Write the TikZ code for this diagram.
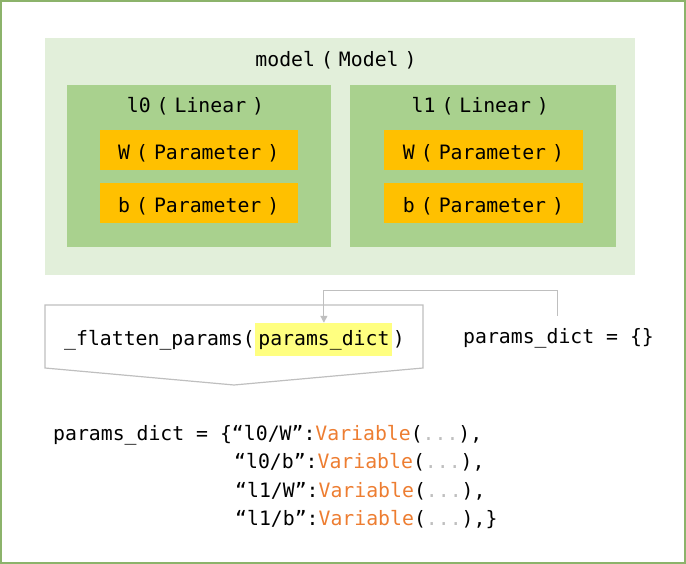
\documentclass[tikz,border=0pt]{standalone}
\usepackage{fontspec}
\usetikzlibrary{arrows.meta}
\newfontfamily\codefont{DejaVu Sans Mono}
\definecolor{framegreen}{HTML}{8CB36B}
\definecolor{modelfill}{HTML}{E2EFDA}
\definecolor{linfill}{HTML}{A9D18E}
\definecolor{parfill}{HTML}{FFC000}
\definecolor{hlyellow}{HTML}{FFFF80}
\definecolor{linegray}{HTML}{BFBFBF}
\definecolor{vorange}{HTML}{ED7D31}
\definecolor{dotgray}{HTML}{BFBFBF}
\newcommand\varcall{\textcolor{vorange}{Variable}(\textcolor{dotgray}{...})}
\newcommand\nsp{\hspace{6pt}}
\begin{document}
\begin{tikzpicture}[x=1pt,y=-1pt,
  box/.style={rectangle, inner sep=0pt, draw=none},
  modelbox/.style={box, fill=modelfill, minimum width=590pt, minimum height=237pt},
  linbox/.style={box, fill=linfill, minimum height=162pt},
  parbox/.style={box, fill=parfill, minimum height=40pt, text height=20pt, text depth=0pt,
                 font=\codefont\fontsize{19.8}{22}\selectfont},
  title/.style={inner sep=0pt, anchor=base, font=\codefont\fontsize{19.8}{22}\selectfont},
  code/.style={inner sep=0pt, anchor=base west, font=\codefont\fontsize{19.8}{24}\selectfont},
  hlbox/.style={code, fill=hlyellow, inner xsep=3pt, inner ysep=6pt, text height=16pt, text depth=5pt},
  flatbox/.style={draw=linegray, line width=1.2pt},
  conn/.style={draw=linegray, line width=1.2pt, -{Triangle[width=7pt,length=7pt]}},
  frame/.style={draw=framegreen, line width=1.5pt},
]
\useasboundingbox (0,0) rectangle (686,564);
\draw[frame] (1,1) rectangle (685,563);

% model
\node[modelbox] (model) at (340,156.5) {};
\node[title] (modeltitle) at (336,67) {model\nsp(\nsp Model\nsp)};

% l0
\node[linbox, minimum width=264.5pt] (l0) at (198.75,166) {};
\node[title] (l0title) at (195.5,113) {l0\nsp(\nsp Linear\nsp)};
\node[parbox, minimum width=197.5pt] (l0W) at (198.75,150) {W\nsp(\nsp Parameter\nsp)};
\node[parbox, minimum width=197.5pt] (l0b) at (198.75,202.75) {b\nsp(\nsp Parameter\nsp)};

% l1
\node[linbox, minimum width=266pt] (l1) at (483,166) {};
\node[title] (l1title) at (480.3,113) {l1\nsp(\nsp Linear\nsp)};
\node[parbox, minimum width=199pt] (l1W) at (483.5,150) {W\nsp(\nsp Parameter\nsp)};
\node[parbox, minimum width=199pt] (l1b) at (483.5,202.75) {b\nsp(\nsp Parameter\nsp)};

% flatten
\draw[flatbox] (45,305) -- (423,305) -- (423,368) -- (234,385) -- (45,368) -- cycle;
\node[code] (f1) at (64,345) {\_flatten\_params(};
\node[hlbox] (hl) at (f1.base east) {params\_dict};
\node[code] (f2) at (hl.base east) {)};

\node[code] (pd) at (463,344) {params\_dict = \{\}};
\draw[conn] ([xshift=-1pt,yshift=13pt]pd.north) -- ++(0,-25) -| (hl.north);

% result
\node[code] (c1) at (53,440) {params\_dict = \{“l0/W”:\varcall,};
\node[code] (c2) at (234,468.5) {“l0/b”:\varcall,};
\node[code] (c3) at (235,497) {“l1/W”:\varcall,};
\node[code] (c4) at (235,525.5) {“l1/b”:\varcall,\}};
\end{tikzpicture}
\end{document}
